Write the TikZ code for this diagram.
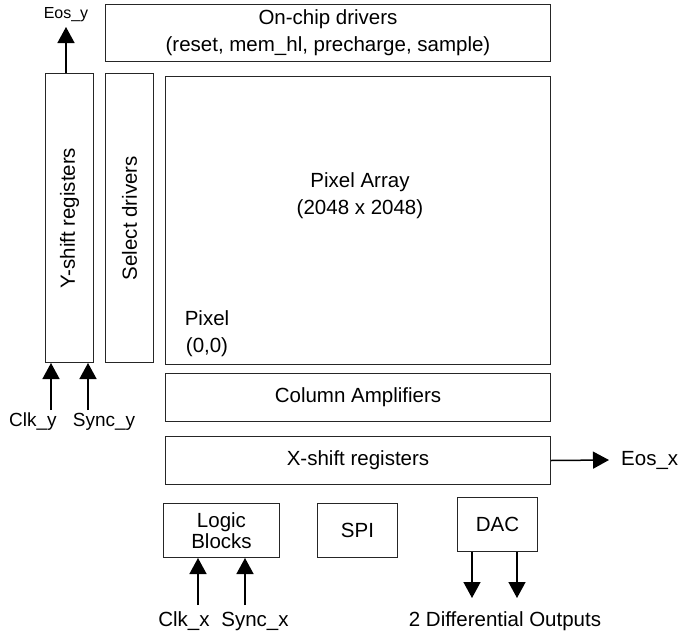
\documentclass[tikz,border=0pt]{standalone}
\usepackage{fontspec}
\setmainfont{Liberation Sans}
\usetikzlibrary{arrows.meta}
\begin{document}
\begin{tikzpicture}[x=1pt,y=-1pt,
  blk/.style={draw=black!85,line width=1pt,inner sep=0pt,anchor=north west,
    font=\fontsize{20.5}{27}\selectfont,align=center},
  txt/.style={inner sep=0pt,font=\fontsize{20.5}{27}\selectfont,align=center},
  sml/.style={inner sep=0pt,font=\fontsize{19}{24}\selectfont},
  arr/.style={line width=1.5pt,-{Triangle[length=16pt,width=17pt]}}]
\useasboundingbox (0,0) rectangle (681,635);
% blocks
\node[blk,minimum width=445pt,minimum height=57pt] (onchip) at (105,4)
  {On-chip drivers\\(reset, mem\_hl, precharge, sample)};
\node[blk,minimum width=48pt,minimum height=289pt] (yshift) at (45,73) {};
\node[txt,rotate=90] (yshiftlbl) at (yshift.center) {Y-shift registers};
\node[blk,minimum width=48pt,minimum height=289pt] (select) at (105,73) {};
\node[txt,rotate=90] (selectlbl) at (select.center) {Select drivers};
\node[blk,minimum width=385pt,minimum height=288pt] (array) at (165,76) {};
\node[txt] (arraylbl) at (360,196) {Pixel Array\\(2048 x 2048)};
\node[txt] (pixlbl) at (207,334) {Pixel\\(0,0)};
\node[blk,minimum width=385pt,minimum height=48pt] (colamp) at (165,373) {Column Amplifiers};
\node[blk,minimum width=385pt,minimum height=48pt] (xshift) at (165,436) {X-shift registers};
\node[blk,minimum width=116pt,minimum height=54pt] (logic) at (163,503) {Logic\\[-6pt]Blocks};
\node[blk,minimum width=80pt,minimum height=54pt] (spi) at (317,503) {SPI};
\node[blk,minimum width=80pt,minimum height=54pt] (dac) at (457,497) {DAC};
% labels
\node[inner sep=0pt,font=\fontsize{16}{18}\selectfont] (eosy) at (66,15) {Eos\_y};
\coordinate (eosyend) at (66,27);
\node[sml] (clky) at (33,422) {Clk\_y};
\coordinate (clkystart) at (51,410);
\node[sml] (syncy) at (104,422) {Sync\_y};
\coordinate (syncystart) at (88,410);
\node[txt,anchor=west] (eosx) at (621,460) {Eos\_x};
\coordinate (eosxend) at (609,460);
\node[txt] (clkx) at (184,621) {Clk\_x};
\coordinate (clkxstart) at (198,605);
\node[txt] (syncx) at (255,621) {Sync\_x};
\coordinate (syncxstart) at (245,605);
\node[txt] (diff) at (505,621) {2 Differential Outputs};
\coordinate (diffa) at (472,598);
\coordinate (diffb) at (517,598);
% arrows
\draw[arr] (yshift.north -| eosyend) -- (eosyend);
\draw[arr] (clkystart) -- (clkystart |- yshift.south);
\draw[arr] (syncystart) -- (syncystart |- yshift.south);
\draw[arr] (xshift.east) -- (eosxend);
\draw[arr] (clkxstart) -- (clkxstart |- logic.south);
\draw[arr] (syncxstart) -- (syncxstart |- logic.south);
\draw[arr] (diffa |- dac.south) -- (diffa);
\draw[arr] (diffb |- dac.south) -- (diffb);
\end{tikzpicture}
\end{document}
